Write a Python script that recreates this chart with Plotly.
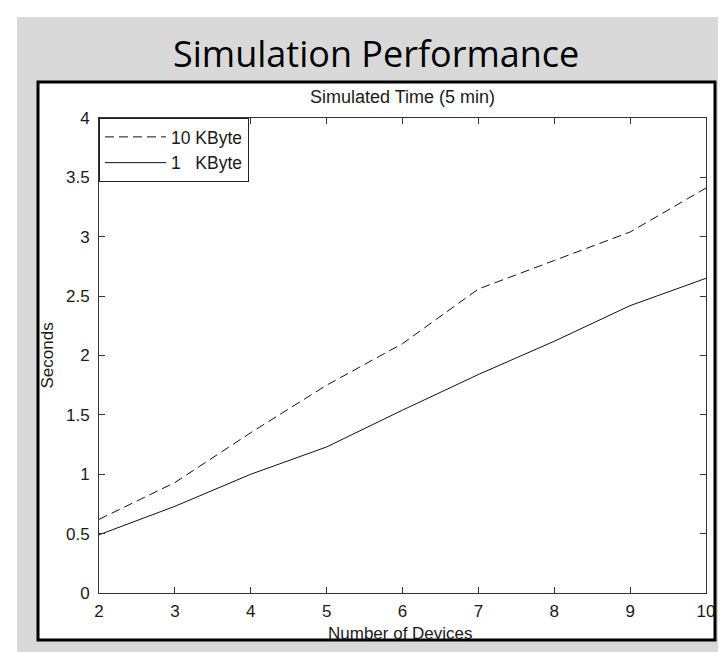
import plotly.graph_objects as go

devices = [2, 3, 4, 5, 6, 7, 8, 9, 10]
kb10 = [0.62, 0.93, 1.35, 1.75, 2.10, 2.56, 2.80, 3.04, 3.41]
kb1 = [0.49, 0.73, 1.00, 1.23, 1.54, 1.84, 2.12, 2.42, 2.65]
series_names = ["10 KByte", "1\u00a0\u00a0\u00a0KByte"]
yticks = [0, 0.5, 1, 1.5, 2, 2.5, 3, 3.5, 4]

W, H = 726, 652
L, R, T, B = 91, 698, 110, 585

def px(x):
    return (x - L) / (R - L)

def py(y):
    return (B - y) / (B - T)

FONT = "Liberation Sans, Arial, sans-serif"
TXT = "#1a1a1a"

fig = go.Figure()
fig.add_trace(go.Scatter(x=devices, y=kb10, mode="lines", name=series_names[0],
                         line=dict(color="#111111", width=1, dash="9px,5px")))
fig.add_trace(go.Scatter(x=devices, y=kb1, mode="lines", name=series_names[1],
                         line=dict(color="#111111", width=1)))

shapes = [
    dict(type="rect", xref="paper", yref="paper", x0=px(9), x1=px(726), y0=py(9), y1=py(648),
         fillcolor="#d9d9d9", line=dict(width=0), layer="below"),
    dict(type="rect", xref="paper", yref="paper", x0=px(30), x1=px(707), y0=py(74), y1=py(632),
         fillcolor="white", line=dict(color="black", width=3), layer="below"),
    dict(type="line", xref="paper", yref="paper", x0=px(9), x1=px(726), y0=py(650), y1=py(650),
         line=dict(color="#9a9a9a", width=1, dash="dot"), layer="below"),
]

annotations = [
    dict(text="Simulation Performance", xref="paper", yref="paper", x=px(368), y=py(45),
         xanchor="center", yanchor="middle", showarrow=False,
         font=dict(family="Open Sans, Noto Sans, sans-serif", size=36, color="#000000")),
    dict(text="Simulated Time (5 min)", xref="paper", yref="paper", x=0.5, y=py(89),
         xanchor="center", yanchor="middle", showarrow=False,
         font=dict(family=FONT, size=18, color=TXT)),
    dict(text="Seconds", xref="paper", yref="paper", x=px(39), y=0.5, textangle=-90,
         xanchor="center", yanchor="middle", showarrow=False,
         font=dict(family=FONT, size=17, color=TXT)),
    dict(text="Number of Devices", xref="paper", yref="paper", x=px(392), y=py(625),
         xanchor="center", yanchor="middle", showarrow=False,
         font=dict(family=FONT, size=17, color=TXT)),
]

fig.update_layout(
    width=W, height=H,
    margin=dict(l=L, r=W - R, t=T, b=H - B),
    paper_bgcolor="white", plot_bgcolor="rgba(0,0,0,0)",
    shapes=shapes, annotations=annotations,
    showlegend=True,
    legend=dict(x=0, y=1, xanchor="left", yanchor="top", bgcolor="white",
                bordercolor="#222222", borderwidth=1,
                font=dict(family=FONT, size=17.5, color=TXT), itemwidth=61),
    font=dict(family=FONT, size=17, color=TXT),
)
fig.update_xaxes(range=[2, 10], tickvals=devices, ticks="inside", ticklen=6, tickcolor="#333333",
                 showline=True, linecolor="#333333", linewidth=1, mirror="ticks",
                 ticklabelstandoff=3,
                 showgrid=False, zeroline=False, tickfont=dict(family=FONT, size=17, color=TXT))
fig.update_yaxes(range=[0, 4], tickvals=yticks, ticks="inside", ticklen=6, tickcolor="#333333",
                 showline=True, linecolor="#333333", linewidth=1, mirror="ticks",
                 ticklabelstandoff=5,
                 showgrid=False, zeroline=False, tickfont=dict(family=FONT, size=17, color=TXT))

fig.write_html("out.html")
